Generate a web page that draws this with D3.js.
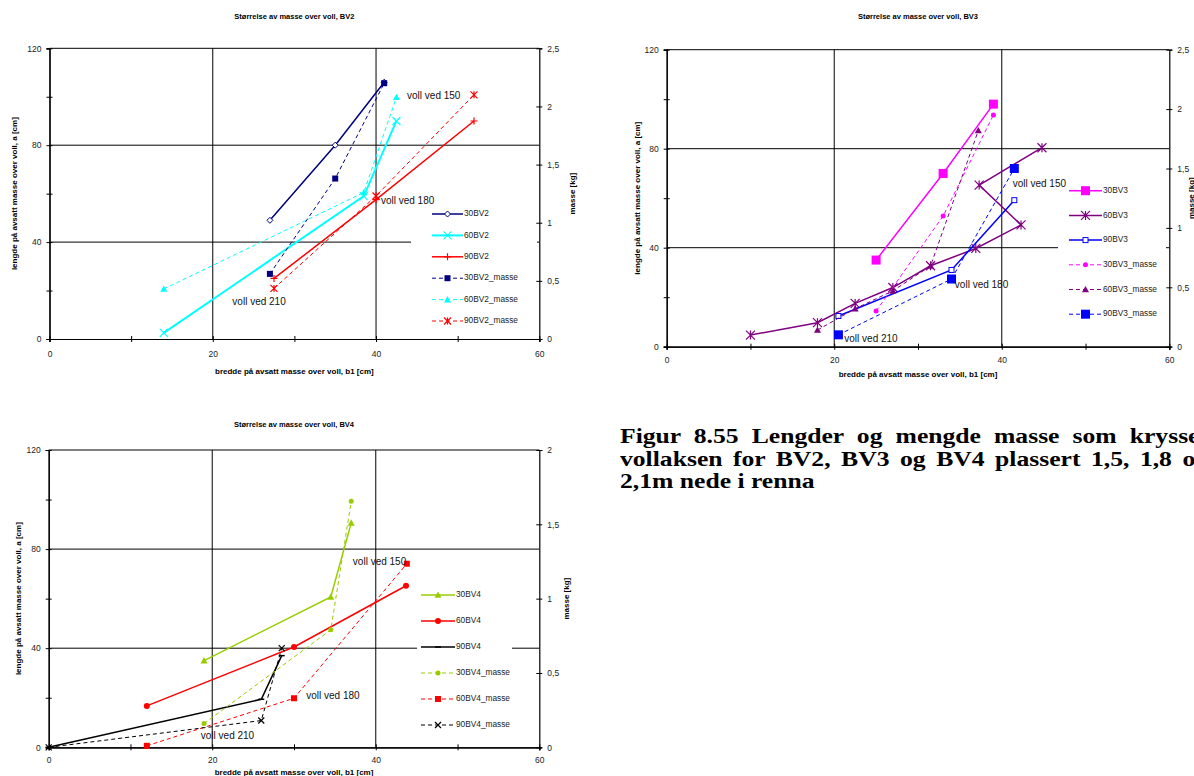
<!DOCTYPE html>
<html><head><meta charset="utf-8">
<script src="https://cdn.jsdelivr.net/npm/d3@7"></script>
<style>
body{margin:0;background:#fff;overflow:hidden;width:1194px;height:776px;}
svg{position:absolute;left:0;top:0;}
#cap{position:absolute;left:620px;top:425px;width:482px;transform:scaleX(1.22);transform-origin:0 0;font-family:"Liberation Serif","Times New Roman",serif;font-weight:bold;font-size:21px;line-height:22.5px;color:#000;}
#cap .j{text-align:justify;text-align-last:justify;}
</style></head>
<body>
<div id="cap"><div class="j">Figur 8.55 Lengder og mengde masse som krysset</div><div class="j">vollaksen for BV2, BV3 og BV4 plassert 1,5, 1,8 og</div><div>2,1m nede i renna</div></div>
<script>
// ---------- DATA ----------
const xTicks = [0, 20, 40, 60];
const xMinor = [10, 30, 50];
const leftTicks = [0, 40, 80, 120];
const leftMinor = [20, 60, 100];
const rightTicks25 = [0, 0.5, 1, 1.5, 2, 2.5];
const rightTicks2 = [0, 0.5, 1, 1.5, 2];
const annotLabels = ["voll ved 150", "voll ved 180", "voll ved 210"];

// BV2: lengths [b1 cm, a cm], masses [b1 cm, kg]
const bv2_30 = [[27, 49], [35, 80], [41, 106]];
const bv2_60 = [[14, 2.5], [38.5, 59], [42.5, 90]];
const bv2_90 = [[27.5, 25], [40, 57.5], [52, 90]];
const bv2_30m = [[27, 0.56], [35, 1.38], [41, 2.2]];
const bv2_60m = [[14, 0.43], [38.5, 1.26], [42.5, 2.08]];
const bv2_90m = [[27.5, 0.435], [40, 1.23], [52, 2.1]];
const bv2_annot = [[43.8, 100], [40.6, 56.8], [22.4, 15.1]];

// BV3
const bv3_30 = [[25, 35], [33, 70], [39, 98]];
const bv3_60 = [[10, 4.7], [18, 9.7], [22.5, 17.5], [27, 23.9], [31.5, 32.7], [36.9, 39.7], [42.3, 49.2], [37.3, 65.3], [44.8, 80.4]];
const bv3_90 = [[20.5, 12.4], [34, 31], [41.5, 59.2]];
const bv3_30m = [[25, 0.3], [33, 1.1], [39, 1.95]];
const bv3_60m = [[18, 0.14], [22.5, 0.32], [27, 0.47], [31.5, 0.68], [37.2, 1.82]];
const bv3_90m = [[20.5, 0.1], [34, 0.57], [41.5, 1.5]];
const bv3_annot = [[41.3, 65.6], [34.4, 24.9], [21.2, 3.1]];

// BV4
const bv4_30 = [[19, 35], [34.5, 60.7], [37, 90.6]];
const bv4_60 = [[12, 16.7], [30, 40.5], [43.7, 65.2]];
const bv4_90 = [[0, 0], [26, 19.4], [28.5, 37]];
const bv4_30m = [[19, 0.16], [34.5, 0.79], [37, 1.655]];
const bv4_60m = [[12, 0.01], [30, 0.33], [43.8, 1.235]];
const bv4_90m = [[0, 0], [26, 0.18], [28.5, 0.667]];
const bv4_annot = [[37.2, 74.7], [31.5, 20.4], [18.6, 4.6]];

// ---------- DRAW ----------
const svg = d3.select("body").append("svg").attr("width", 1194).attr("height", 776);
const FONT = "'Liberation Sans', Arial, sans-serif";
const fmt = d => String(d).replace(".", ",");

function marker(g, type, cx, cy, color, s) {
  const h = s / 2;
  if (type === "diamondHollow") {
    g.append("path").attr("d", `M${cx},${cy - h}L${cx + h},${cy}L${cx},${cy + h}L${cx - h},${cy}Z`)
      .attr("fill", "#fff").attr("stroke", color).attr("stroke-width", 1);
  } else if (type === "x") {
    g.append("path").attr("d", `M${cx - h},${cy - h}L${cx + h},${cy + h}M${cx - h},${cy + h}L${cx + h},${cy - h}`)
      .attr("stroke", color).attr("stroke-width", 1.2).attr("fill", "none");
  } else if (type === "plus") {
    g.append("path").attr("d", `M${cx - h},${cy}L${cx + h},${cy}M${cx},${cy - h}L${cx},${cy + h}`)
      .attr("stroke", color).attr("stroke-width", 1.2).attr("fill", "none");
  } else if (type === "star") {
    g.append("path").attr("d", `M${cx - h},${cy - h}L${cx + h},${cy + h}M${cx - h},${cy + h}L${cx + h},${cy - h}M${cx},${cy - h}L${cx},${cy + h}`)
      .attr("stroke", color).attr("stroke-width", 1.2).attr("fill", "none");
  } else if (type === "square") {
    g.append("rect").attr("x", cx - h).attr("y", cy - h).attr("width", s).attr("height", s).attr("fill", color);
  } else if (type === "squareHollow") {
    g.append("rect").attr("x", cx - h).attr("y", cy - h).attr("width", s).attr("height", s)
      .attr("fill", "#fff").attr("stroke", color).attr("stroke-width", 1);
  } else if (type === "triangle") {
    g.append("path").attr("d", `M${cx},${cy - h}L${cx + h},${cy + h * 0.8}L${cx - h},${cy + h * 0.8}Z`).attr("fill", color);
  } else if (type === "circle") {
    g.append("circle").attr("cx", cx).attr("cy", cy).attr("r", h).attr("fill", color);
  } else if (type === "dash") {
    g.append("path").attr("d", `M${cx - h},${cy}L${cx + h},${cy}`).attr("stroke", color).attr("stroke-width", 1.5);
  }
}

function crossTicks(axisG, horizontal) {
  axisG.selectAll(".tick line").each(function () {
    const l = d3.select(this);
    if (horizontal) l.attr("x1", -3).attr("x2", 3).attr("y1", null).attr("y2", null);
    else l.attr("y1", -3).attr("y2", 3).attr("x1", null).attr("x2", null);
  }).attr("stroke", "#000");
}

function panel(c) {
  const g = svg.append("g");
  const x = d3.scaleLinear().domain([0, 60]).range([c.x0, c.x1]);
  const y = d3.scaleLinear().domain([0, 120]).range([c.y0, c.y1]);
  const y2 = d3.scaleLinear().domain([0, c.kgMax]).range([c.y0, c.y1]);

  // gridlines
  const grid = g.append("g").attr("stroke", "#000").attr("stroke-width", 1);
  leftTicks.filter(v => v > 0).forEach(v => {
    grid.append("line").attr("x1", c.x0).attr("x2", c.x1).attr("y1", y(v)).attr("y2", y(v));
  });
  xTicks.filter(v => v > 0 && v < 60).forEach(v => {
    grid.append("line").attr("x1", x(v)).attr("x2", x(v)).attr("y1", c.y0).attr("y2", c.y1);
  });
  // legend background
  g.append("rect").attr("x", c.lb[0]).attr("y", c.lb[1]).attr("width", c.lb[2] - c.lb[0]).attr("height", c.lb[3] - c.lb[1]).attr("fill", "#fff");

  // axes
  const axL = g.append("g").attr("transform", `translate(${c.x0},0)`)
    .call(d3.axisLeft(y).tickValues(leftTicks).tickSizeOuter(0).tickSize(3).tickPadding(5).tickFormat(fmt));
  crossTicks(axL, true);
  const axLm = g.append("g").attr("transform", `translate(${c.x0},0)`)
    .call(d3.axisLeft(y).tickValues(leftMinor).tickSizeOuter(0).tickSize(3).tickFormat(""));
  crossTicks(axLm, true);
  const axB = g.append("g").attr("transform", `translate(0,${c.y0})`)
    .call(d3.axisBottom(x).tickValues(xTicks).tickSizeOuter(0).tickSize(3).tickPadding(c.xPad).tickFormat(fmt));
  crossTicks(axB, false);
  const axBm = g.append("g").attr("transform", `translate(0,${c.y0})`)
    .call(d3.axisBottom(x).tickValues(xMinor).tickSizeOuter(0).tickSize(3).tickFormat(""));
  crossTicks(axBm, false);
  const axR = g.append("g").attr("transform", `translate(${c.x1},0)`)
    .call(d3.axisRight(y2).tickValues(c.rTicks).tickSizeOuter(0).tickSize(3).tickPadding(5).tickFormat(fmt));
  crossTicks(axR, true);
  [axL, axLm, axB, axBm, axR].forEach(a => {
    a.select(".domain").attr("stroke", "#000").attr("stroke-width", 1.2);
    a.selectAll("text").attr("font-family", FONT).attr("font-size", "8.5px").attr("fill", "#222");
  });

  // series
  c.series.forEach(s => {
    const ys = s.axis === "right" ? y2 : y;
    const line = d3.line().x(d => x(d[0])).y(d => ys(d[1]));
    g.append("path").datum(s.data).attr("d", line).attr("fill", "none")
      .attr("stroke", s.color).attr("stroke-width", s.dashed ? 1 : s.w || 1.5)
      .attr("stroke-dasharray", s.dashed ? "4,3" : null);
    s.data.forEach(d => marker(g, s.marker, x(d[0]), ys(d[1]), s.color, s.ms));
  });

  // annotations
  c.annot.forEach((d, i) => {
    g.append("text").attr("x", x(d[0])).attr("y", y(d[1])).attr("dominant-baseline", "middle")
      .attr("font-family", FONT).attr("font-size", "10px").attr("fill", "#111").text(annotLabels[i]);
  });

  // legend
  c.series.forEach((s, i) => {
    const ly = c.legRows[0] + i * c.legStep;
    g.append("line").attr("x1", c.legX[0]).attr("x2", c.legX[1]).attr("y1", ly).attr("y2", ly)
      .attr("stroke", s.color).attr("stroke-width", s.dashed ? 1 : s.w || 1.5)
      .attr("stroke-dasharray", s.dashed ? "4,3" : null);
    marker(g, s.marker, (c.legX[0] + c.legX[1]) / 2, ly, s.color, s.ms);
    g.append("text").attr("x", c.legX[1] + 1).attr("y", ly).attr("dominant-baseline", "middle")
      .attr("font-family", FONT).attr("font-size", "8.3px").attr("fill", "#222").text(s.name);
  });

  // titles
  const cx = (c.x0 + c.x1) / 2, cy = (c.y0 + c.y1) / 2;
  g.append("text").attr("x", cx).attr("y", c.titleY).attr("text-anchor", "middle").attr("dominant-baseline", "middle")
    .attr("font-family", FONT).attr("font-weight", "bold").attr("font-size", "7.5px").text(c.title);
  g.append("text").attr("x", cx).attr("y", c.xLabY).attr("text-anchor", "middle").attr("dominant-baseline", "middle")
    .attr("font-family", FONT).attr("font-weight", "bold").attr("font-size", "8px").text("bredde på avsatt masse over voll, b1 [cm]");
  g.append("text").attr("transform", `translate(${c.yLabX},${cy}) rotate(-90)`).attr("text-anchor", "middle").attr("dominant-baseline", "middle")
    .attr("font-family", FONT).attr("font-weight", "bold").attr("font-size", "8px").text("lengde på avsatt masse over voll, a [cm]");
  g.append("text").attr("transform", `translate(${c.rLabX},${cy}) rotate(-90)`).attr("text-anchor", "middle").attr("dominant-baseline", "middle")
    .attr("font-family", FONT).attr("font-weight", "bold").attr("font-size", "8px").text("masse [kg]");
}

const NAVY = "#000080", CYAN = "#00FFFF", RED = "#FF0000", MAG = "#FF00FF", PURP = "#800080", BLUE = "#0000FF", LIME = "#99CC00", BLK = "#000000";

panel({
  x0: 49.5, x1: 539.3, y0: 339, y1: 48.3, kgMax: 2.5, rTicks: rightTicks25, xPad: 9,
  title: "Størrelse av masse over voll, BV2", titleY: 17, xLabY: 372, yLabX: 15, rLabX: 573,
  lb: [411, 203, 537, 333], legX: [432, 463], legRows: [214], legStep: 21.4,
  annot: bv2_annot,
  series: [
    { name: "30BV2", data: bv2_30, axis: "left", color: NAVY, marker: "diamondHollow", ms: 6 },
    { name: "60BV2", data: bv2_60, axis: "left", color: CYAN, marker: "x", ms: 8, w: 2 },
    { name: "90BV2", data: bv2_90, axis: "left", color: RED, marker: "plus", ms: 7 },
    { name: "30BV2_masse", data: bv2_30m, axis: "right", color: NAVY, dashed: true, marker: "square", ms: 6 },
    { name: "60BV2_masse", data: bv2_60m, axis: "right", color: CYAN, dashed: true, marker: "triangle", ms: 7 },
    { name: "90BV2_masse", data: bv2_90m, axis: "right", color: RED, dashed: true, marker: "star", ms: 7 }
  ]
});

panel({
  x0: 666.7, x1: 1169.3, y0: 346.7, y1: 49.7, kgMax: 2.5, rTicks: rightTicks25, xPad: 7,
  title: "Størrelse av masse over voll, BV3", titleY: 17, xLabY: 375, yLabX: 638, rLabX: 1192,
  lb: [1058, 178, 1166, 326], legX: [1069, 1102], legRows: [190.7], legStep: 24.7,
  annot: bv3_annot,
  series: [
    { name: "30BV3", data: bv3_30, axis: "left", color: MAG, marker: "square", ms: 9 },
    { name: "60BV3", data: bv3_60, axis: "left", color: PURP, marker: "star", ms: 9 },
    { name: "90BV3", data: bv3_90, axis: "left", color: BLUE, marker: "squareHollow", ms: 5 },
    { name: "30BV3_masse", data: bv3_30m, axis: "right", color: MAG, dashed: true, marker: "circle", ms: 5 },
    { name: "60BV3_masse", data: bv3_60m, axis: "right", color: PURP, dashed: true, marker: "triangle", ms: 7 },
    { name: "90BV3_masse", data: bv3_90m, axis: "right", color: BLUE, dashed: true, marker: "square", ms: 9 }
  ]
});

panel({
  x0: 48.7, x1: 539.3, y0: 747.3, y1: 450, kgMax: 2, rTicks: rightTicks2, xPad: 7,
  title: "Størrelse av masse over voll, BV4", titleY: 425, xLabY: 773, yLabX: 19, rLabX: 567,
  lb: [417, 583, 512, 737], legX: [421, 455], legRows: [595], legStep: 26,
  annot: bv4_annot,
  series: [
    { name: "30BV4", data: bv4_30, axis: "left", color: LIME, marker: "triangle", ms: 7 },
    { name: "60BV4", data: bv4_60, axis: "left", color: RED, marker: "circle", ms: 6 },
    { name: "90BV4", data: bv4_90, axis: "left", color: BLK, marker: "dash", ms: 6 },
    { name: "30BV4_masse", data: bv4_30m, axis: "right", color: LIME, dashed: true, marker: "circle", ms: 5 },
    { name: "60BV4_masse", data: bv4_60m, axis: "right", color: RED, dashed: true, marker: "square", ms: 6 },
    { name: "90BV4_masse", data: bv4_90m, axis: "right", color: BLK, dashed: true, marker: "x", ms: 6 }
  ]
});
</script>
</body></html>
